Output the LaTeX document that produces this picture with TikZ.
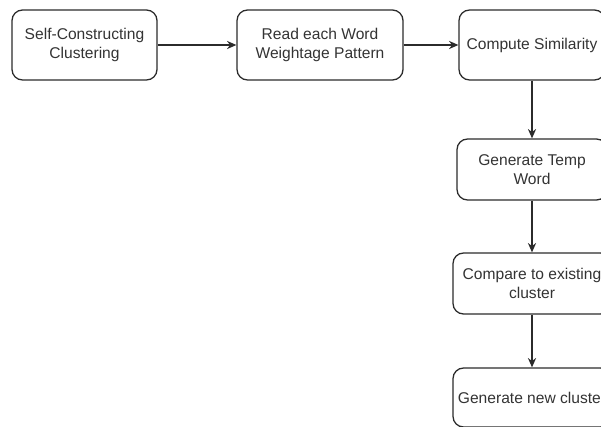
\documentclass[tikz,border=0pt]{standalone}
\usepackage{fontspec}
\setmainfont{Liberation Sans}
\usetikzlibrary{arrows.meta}

\definecolor{linegray}{HTML}{2B2B2B}
\definecolor{textgray}{HTML}{333333}

\tikzstyle{block}=[draw=linegray,line width=1.1pt,rounded corners=9pt,align=center,text=textgray,inner sep=2pt,font=\fontsize{13.3}{16.2}\selectfont]
\tikzstyle{arrowdecorate}=[-{Stealth[length=8pt,width=7pt]},draw=linegray,line width=1pt]

\begin{document}
\begin{tikzpicture}[x=0.03cm,y=-0.03cm]
    \useasboundingbox (0,0) rectangle (601,426);
    \clip (0,0) rectangle (601,426);

    \foreach \nodename/\label/\x/\y/\w/\h in {
      self/{Self-Constructing\\Clustering}/84.5/45/4.35/2.1,
      read/{Read each Word\\Weightage Pattern}/320/45/4.98/2.1,
      sim/{Compute Similarity}/532/45/4.38/2.1,
      temp/{Generate Temp\\Word}/532/169.5/4.5/1.83,
      comp/{Compare to existing\\cluster}/532/283.5/4.74/1.83,
      new/{Generate new cluster}/532/397.5/4.74/1.77}
    {
      \node[block, minimum width=\w cm, minimum height=\h cm] (\nodename) at (\x,\y) {\label};
    }

    %edges or lines
    \path
    \foreach \startnode/\endnode in {
      self/read, read/sim, sim/temp, temp/comp, comp/new}
    {
      (\startnode) edge[arrowdecorate] (\endnode)
    };

\end{tikzpicture}
\end{document}
